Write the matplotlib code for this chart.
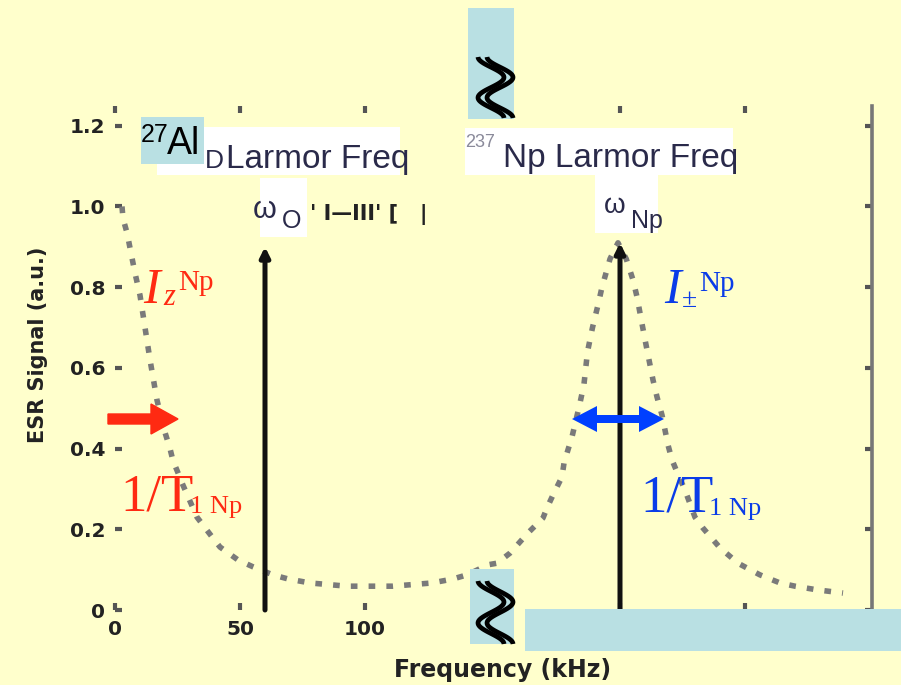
import matplotlib
matplotlib.use("Agg")
import numpy as np
import matplotlib.pyplot as plt
from matplotlib.patches import Rectangle, FancyArrow

# ---- data -------------------------------------------------------------
# ESR signal vs. frequency (kHz, broken axis)
freq = [2.8, 3.2, 4.8, 6.4, 8.0, 10.0, 12.0, 14.0, 16.8, 20.0, 22.0, 23.2,
        25.2, 26.8, 32.8, 39.2, 42.0, 49.2, 55.2, 63.2, 69.2, 78.0, 92.8,
        111.0, 126.8, 135.2, 140.8, 149.2, 152.8, 158.0, 165.2, 171.2, 172.8,
        175.2, 178.8, 179.6, 181.2, 182.8, 186.0, 187.6, 189.0, 191.0, 193.2,
        194.8, 198.0, 201.2, 204.5, 207.2, 208.8, 210.0, 212.0, 215.2, 216.8,
        218.8, 220.0, 221.2, 222.8, 224.8, 228.0, 232.0, 235.2, 242.0, 249.2,
        252.8, 258.0, 266.0, 272.0, 280.8, 291.2]
signal = [1.00, 0.97, 0.935, 0.885, 0.835, 0.78, 0.70, 0.62, 0.52, 0.44, 0.40,
          0.37, 0.34, 0.315, 0.23, 0.178, 0.156, 0.124, 0.107, 0.087, 0.077,
          0.067, 0.059, 0.059, 0.067, 0.077, 0.087, 0.112, 0.116, 0.141, 0.191,
          0.228, 0.253, 0.285, 0.33, 0.364, 0.397, 0.429, 0.513, 0.56, 0.64,
          0.70, 0.756, 0.80, 0.87, 0.91, 0.87, 0.818, 0.776, 0.736, 0.67, 0.57,
          0.528, 0.483, 0.446, 0.409, 0.372, 0.342, 0.297, 0.23, 0.203, 0.154,
          0.116, 0.104, 0.087, 0.067, 0.059, 0.05, 0.042]

# Larmor frequency markers (position, height)
larmor_pos = [60.0, 202.0]
larmor_height = [0.90, 0.91]

x_ticks = [0, 50, 100, 202, 252]
x_tick_labels = ["0", "50", "100", "", ""]
y_ticks = [0.0, 0.2, 0.4, 0.6, 0.8, 1.0, 1.2]
y_tick_labels = ["0", "0.2", "0.4", "0.6", "0.8", "1.0", "1.2"]

BG = "#ffffcc"
BOX = "#b9e0e3"
RED = "#ff2a12"
BLUE = "#0a3ce8"
SERIF = "Liberation Serif"
SANS = "Liberation Sans"

W, H = 901, 685
fig = plt.figure(figsize=(W / 100, H / 100), dpi=100, facecolor=BG)

# ---- main plot --------------------------------------------------------
left_px, right_px, bottom_px, top_px = 115, 872, 610, 105.6
ax = fig.add_axes([left_px / W, (H - bottom_px) / H,
                   (right_px - left_px) / W, (bottom_px - top_px) / H])
ax.set_facecolor("none")
ax.set_xlim(0, 302.8)
ax.set_ylim(0, 1.25)

ax.plot(freq, signal, color="#7a7a7a", lw=4.0, ls=(0, (1.2, 2.0)),
        dash_capstyle="butt", zorder=2)

for xp, hp in zip(larmor_pos, larmor_height):
    ax.annotate("", xy=(xp, hp), xytext=(xp, 0.0),
                arrowprops=dict(arrowstyle="-|>", lw=3.6, color="#111111",
                                mutation_scale=14, shrinkA=0, shrinkB=0),
                zorder=3)

for side in ("left", "top", "bottom"):
    ax.spines[side].set_visible(False)
ax.spines["right"].set_color("#777777")
ax.spines["right"].set_linewidth(2.6)

ax.set_xticks(x_ticks)
ax.set_xticklabels(x_tick_labels)
ax.set_yticks(y_ticks)
ax.set_yticklabels(y_tick_labels)
ax.tick_params(direction="in", length=5, width=3, color="#555555",
               top=True, right=True, labelsize=14.5, labelcolor="#222222",
               pad=7)
for lab in ax.get_xticklabels() + ax.get_yticklabels():
    lab.set_fontweight("bold")

# ---- overlay in pixel coordinates --------------------------------------
ov = fig.add_axes([0, 0, 1, 1], zorder=5)
ov.set_xlim(0, W)
ov.set_ylim(H, 0)
ov.axis("off")
ov.patch.set_alpha(0)


def rect(x0, y0, x1, y1, color, z=1):
    ov.add_patch(Rectangle((x0, y0), x1 - x0, y1 - y0, facecolor=color,
                           edgecolor="none", zorder=z))


def txt(x, y, s, size, family=SANS, color="black", style="normal",
        weight="normal", z=3, **kw):
    ov.text(x, y, s, fontsize=size, family=family, color=color, style=style,
            weight=weight, va="baseline", ha="left", zorder=z, **kw)


def break_mark(cx, top, height):
    """Double wavy axis-break symbol."""
    t = np.linspace(0, 1, 60)
    for off in (0, 9):
        xs = cx - 4 + off - 13 * np.cos(3 * np.pi * t)
        ys = top + height * t
        ov.plot(xs, ys, color="black", lw=3.4, solid_capstyle="butt",
                zorder=3)


# axis titles
ov.text(38, 345, "ESR Signal (a.u.)", rotation=90, fontsize=15,
        weight="bold", color="#222222", ha="center", va="center")
ov.text(503, 670, "Frequency (kHz)", fontsize=17, weight="bold",
        color="#222222", ha="center", va="center")

# white label boxes
rect(157, 127, 400, 175, "white")
rect(260, 178, 307, 237, "white")
rect(465, 128, 733, 175, "white")
rect(595, 175, 658, 233, "white")

txt(205, 168, "D", 19, color="#2a2a4a", z=2)
txt(226, 168, "Larmor Freq", 24, color="#2a2a4a")
txt(253, 218, "ω", 22, color="#2a2a4a")
txt(282, 228, "O", 18, color="#2a2a4a")
txt(310, 220, "' I—III' [   |", 15, family="DejaVu Sans", weight="bold",
    color="#222222")

txt(465, 147, "237", 13, color="#8a8a9a")
txt(503, 167, "Np Larmor Freq", 24, color="#2a2a4a")
txt(604, 213, "ω", 20, color="#2a2a4a")
txt(631, 228, "Np", 18, color="#2a2a4a")

# 27Al tag
rect(141, 117, 204, 164, BOX, z=4)
txt(141, 142, "27", 18, z=5)
txt(167, 154, "Al", 27, z=5)

# axis-break tags
rect(468, 8, 514, 119, BOX)
rect(470, 569, 514, 644, BOX)
rect(525, 609, 901, 651, BOX)
break_mark(495, 57, 61)
break_mark(495, 581, 63)

# longitudinal component (red)
txt(143, 303, "I", 36, family=SERIF, style="italic", color=RED)
txt(163, 305, "z", 22, family=SERIF, style="italic", color=RED)
txt(178, 290, "Np", 21, family=SERIF, color=RED)
ov.add_patch(FancyArrow(108, 419, 70, 0, width=10, head_width=30,
                        head_length=27, length_includes_head=True,
                        color=RED, zorder=3))
txt(120, 510, "1/T", 38, family=SERIF, color=RED)
txt(190, 513, "1 Np", 19, family=SERIF, color=RED)

# transverse component (blue)
txt(664, 303, "I", 36, family=SERIF, style="italic", color=BLUE)
txt(682, 307, "±", 20, family=SERIF, color=BLUE)
txt(699, 291, "Np", 21, family=SERIF, color=BLUE)
for dx in (-46, 46):
    ov.add_patch(FancyArrow(618, 419, dx, 0, width=8, head_width=26,
                            head_length=25, length_includes_head=True,
                            color="#0040ff", ec="none", zorder=3))
txt(640, 512, "1/T", 38, family=SERIF, color=BLUE)
txt(709, 515, "1 Np", 19, family=SERIF, color=BLUE)

fig.savefig("out.png", dpi=100, facecolor=BG)
